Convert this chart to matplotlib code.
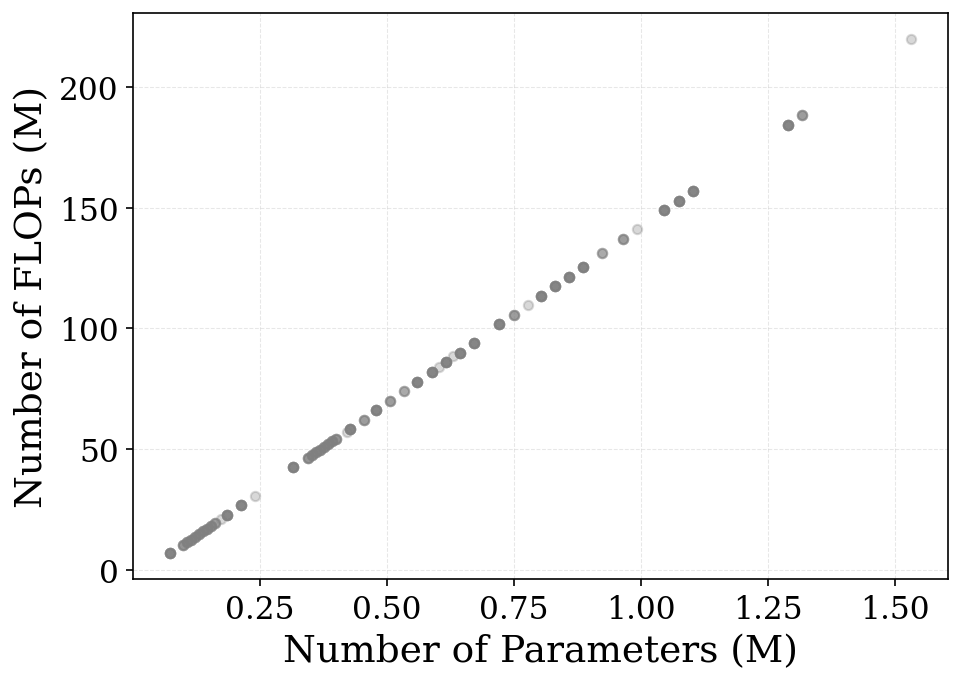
import numpy as np
import matplotlib
matplotlib.use("Agg")
import matplotlib.pyplot as plt
from matplotlib.ticker import MultipleLocator

# model sizes (M params) vs compute (M FLOPs); n_models = how many models share a point
params_m = [0.0741, 0.0983, 0.1061, 0.1140, 0.1219, 0.1298, 0.1377, 0.1456, 0.1535,
            0.1614, 0.1745, 0.1856, 0.2139, 0.2415, 0.3160, 0.3446, 0.3524, 0.3603,
            0.3682, 0.3761, 0.3840, 0.3919, 0.3997, 0.4208, 0.4283, 0.4559, 0.4789,
            0.5067, 0.5343, 0.5599, 0.5883, 0.6032, 0.6158, 0.6308, 0.6440, 0.6710,
            0.7214, 0.7498, 0.7780, 0.8030, 0.8312, 0.8588, 0.8869, 0.9243, 0.9645,
            0.9927, 1.0453, 1.0741, 1.1017, 1.2888, 1.3172, 1.5319]
flops_m = [6.9, 10.4, 11.5, 12.6, 13.8, 14.9, 16.0, 17.1, 18.3,
           19.4, 21.3, 22.9, 26.9, 30.7, 42.6, 46.5, 47.6, 48.7,
           49.8, 50.9, 52.1, 53.2, 54.3, 57.2, 58.3, 62.2, 66.1,
           70.1, 74.1, 77.9, 82.0, 84.0, 86.1, 88.6, 90.0, 93.8,
           101.7, 105.7, 109.7, 113.6, 117.5, 121.4, 125.4, 131.3, 137.1,
           141.1, 148.9, 152.9, 156.9, 184.3, 188.4, 219.8]
n_models = [8, 5, 5, 5, 5, 5, 5, 5, 5,
            4, 1, 8, 8, 1, 8, 5, 5, 5,
            5, 5, 5, 5, 5, 1, 8, 4, 8,
            4, 3, 8, 8, 1, 8, 1, 8, 8,
            8, 4, 1, 8, 8, 8, 8, 3, 4,
            1, 8, 8, 8, 8, 4, 1]

x = np.repeat(params_m, n_models)
y = np.repeat(flops_m, n_models)

plt.rcParams["font.family"] = "DejaVu Serif"

fig = plt.figure(figsize=(6.42, 4.573), dpi=150)
ax = fig.add_axes([0.1384, 0.1545, 0.8463, 0.8245])

ax.scatter(x, y, s=20, c="gray", alpha=0.3, linewidths=1)
ax.grid(True, linestyle="--", linewidth=0.5, alpha=0.3)
ax.set_axisbelow(True)
ax.xaxis.set_major_locator(MultipleLocator(0.25))

ax.set_xlabel("Number of Parameters (M)", fontsize=18)
ax.set_ylabel("Number of FLOPs (M)", fontsize=18)
ax.tick_params(labelsize=15)

fig.savefig("out.png", dpi=150)
